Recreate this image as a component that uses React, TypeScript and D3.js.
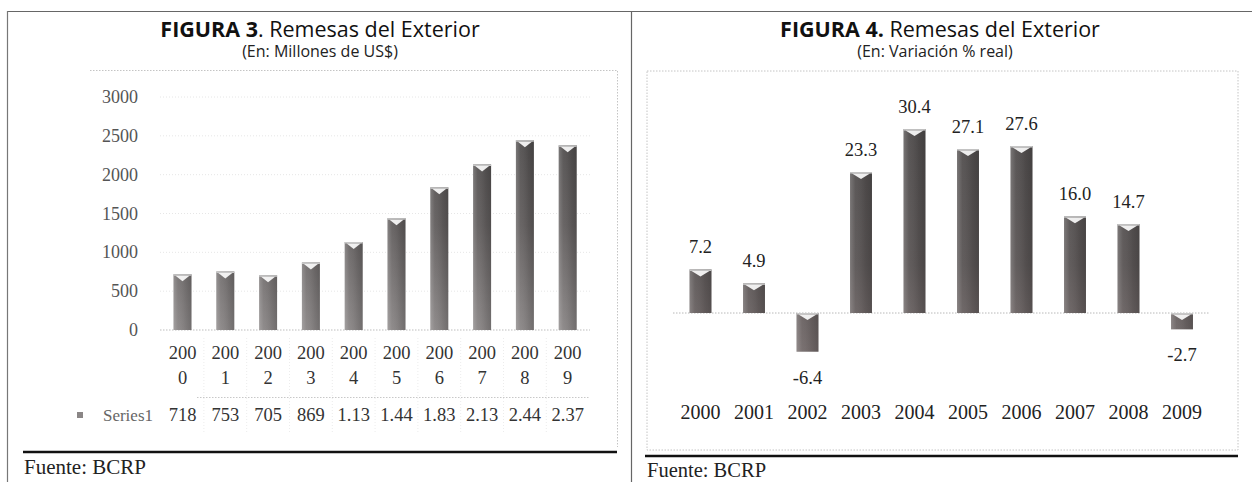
import * as d3 from "d3";

// --- data ---
const YEARS = ["2000", "2001", "2002", "2003", "2004", "2005", "2006", "2007", "2008", "2009"];
const REMESAS = [718, 753, 705, 869, 1133, 1440, 1837, 2131, 2444, 2378]; // millones US$
const REMESAS_TABLE = ["718", "753", "705", "869", "1.13", "1.44", "1.83", "2.13", "2.44", "2.37"];
const REMESAS_TICKS = [0, 500, 1000, 1500, 2000, 2500, 3000];
const VARIACION = [7.2, 4.9, -6.4, 23.3, 30.4, 27.1, 27.6, 16.0, 14.7, -2.7]; // % real

const SERIF = "'Liberation Serif', 'DejaVu Serif', serif";
const SANS = "'Open Sans', 'Noto Sans', sans-serif";

type BarProps = { x: number; w: number; top: number; bottom: number; fill: string };

// excel-ish bevelled column: gradient body, sheen, white notch on top
function Bar({ x, w, top, bottom, fill }: BarProps) {
  const h = Math.max(bottom - top, 1);
  return (
    <g>
      <rect x={x} y={top} width={w} height={h} fill={fill} />
      <rect x={x} y={top} width={w} height={h} fill="url(#sheen)" />
      <rect x={x} y={top} width={w} height={1.5} fill="#c8c8c8" />
      <path
        d={`M${x + 2},${top + 1.5}L${x + w - 2},${top + 1.5}L${x + w / 2},${top + Math.min(7, h)}Z`}
        fill="#fff"
        opacity={0.9}
      />
    </g>
  );
}

export default function App() {
  // FIGURA 3
  const xL = d3.scaleBand<string>().domain(YEARS).range([161.1, 589.1]).paddingInner(0.58).paddingOuter(0.29);
  const yL = d3.scaleLinear().domain([0, 3000]).range([330, 97]);
  // FIGURA 4
  const xR = d3.scaleBand<string>().domain(YEARS).range([673.75, 1208.75]).paddingInner(0.59).paddingOuter(0.295);
  const yR = d3.scaleLinear().domain([-10, 35]).range([373.5, 101.25]);

  const cL = (d: string) => (xL(d) ?? 0) + xL.bandwidth() / 2;
  const cR = (d: string) => (xR(d) ?? 0) + xR.bandwidth() / 2;
  const gapL = (xL.step() - xL.bandwidth()) / 2;

  return (
    <div style={{ position: "absolute", left: 0, top: 0 }}>
      <svg width={1252} height={482} viewBox="0 0 1252 482" style={{ display: "block", background: "#fff" }}>
        <defs>
          <linearGradient id="barL" gradientUnits="userSpaceOnUse" x1="0" y1={yL(3000)} x2="0" y2={yL(0)}>
            <stop offset="0" stopColor="#4a4848" />
            <stop offset="0.55" stopColor="#625e5e" />
            <stop offset="1" stopColor="#8a8686" />
          </linearGradient>
          <linearGradient id="barR" gradientUnits="userSpaceOnUse" x1="0" y1={yR(35)} x2="0" y2={yR(-10)}>
            <stop offset="0" stopColor="#4e4b4b" />
            <stop offset="0.6" stopColor="#5a5555" />
            <stop offset="1" stopColor="#7a7070" />
          </linearGradient>
          <linearGradient id="sheen" x1="0" y1="0" x2="1" y2="0">
            <stop offset="0" stopColor="#fff" stopOpacity={0.22} />
            <stop offset="0.25" stopColor="#fff" stopOpacity={0.05} />
            <stop offset="0.7" stopColor="#000" stopOpacity={0.08} />
            <stop offset="1" stopColor="#000" stopOpacity={0.18} />
          </linearGradient>
        </defs>

        {/* page frame */}
        <line x1={7} x2={1252} y1={11.5} y2={11.5} stroke="#666" strokeWidth={1.2} />
        <line x1={7.5} x2={7.5} y1={11} y2={482} stroke="#777" strokeWidth={1.2} />
        <line x1={631.5} x2={631.5} y1={11} y2={482} stroke="#666" strokeWidth={1.2} />

        {/* ================= FIGURA 3 ================= */}
        <text x={320} y={28} textAnchor="middle" dominantBaseline="central" fontFamily={SANS} fontSize={21.5} fill="#111">
          <tspan fontWeight="bold">FIGURA 3</tspan>. Remesas del Exterior
        </text>
        <text x={320} y={51} textAnchor="middle" dominantBaseline="central" fontFamily={SANS} fontSize={16} fill="#222">
          (En: Millones de US$)
        </text>

        <path d="M90,70.5H617.5V447" fill="none" stroke="#c4c4c4" strokeDasharray="1.5,1.5" />

        {REMESAS_TICKS.map((t) => (
          <g key={t}>
            {t > 0 && (
              <line x1={160} x2={590} y1={yL(t)} y2={yL(t)} stroke="#e6e6e6" strokeDasharray="1,2" />
            )}
            <text x={138} y={yL(t)} textAnchor="end" dominantBaseline="central" fontFamily={SERIF} fontSize={18} fill="#555">
              {t}
            </text>
          </g>
        ))}
        <line x1={160} x2={590} y1={yL(0)} y2={yL(0)} stroke="#bdbdbd" strokeDasharray="1.5,1.5" />

        {YEARS.map((d, i) => (
          <Bar key={d} x={xL(d) ?? 0} w={xL.bandwidth()} top={yL(REMESAS[i])} bottom={yL(0)} fill="url(#barL)" />
        ))}

        {/* data table under the axis */}
        <line x1={197} x2={590} y1={397.5} y2={397.5} stroke="#c8c8c8" strokeDasharray="1.5,1.5" />
        {YEARS.slice(1).map((d) => (
          <line key={d} x1={xL(d)! - gapL} x2={xL(d)! - gapL} y1={338} y2={432} stroke="#ececec" strokeDasharray="1,2" />
        ))}
        {YEARS.map((d) => (
          <g key={d} fontFamily={SERIF} fontSize={18.5} fill="#333" textAnchor="middle">
            <text x={cL(d)} y={353} dominantBaseline="central">{d.slice(0, 3)}</text>
            <text x={cL(d)} y={378} dominantBaseline="central">{d.slice(3)}</text>
          </g>
        ))}
        <rect x={77} y={412} width={6} height={6} fill="url(#barL)" />
        <text x={153} y={415} textAnchor="end" dominantBaseline="central" fontFamily={SERIF} fontSize={17} fill="#666">
          Series1
        </text>
        {YEARS.map((d, i) => (
          <text key={d} x={cL(d)} y={415} textAnchor="middle" dominantBaseline="central" fontFamily={SERIF} fontSize={18.5} fill="#333">
            {REMESAS_TABLE[i]}
          </text>
        ))}

        <line x1={23} x2={617} y1={452} y2={452} stroke="#111" strokeWidth={2.6} />
        <text x={24} y={467} dominantBaseline="central" fontFamily={SERIF} fontSize={21} fill="#222">
          Fuente: BCRP
        </text>

        {/* ================= FIGURA 4 ================= */}
        <text x={940} y={28} textAnchor="middle" dominantBaseline="central" fontFamily={SANS} fontSize={21.5} fill="#111">
          <tspan fontWeight="bold">FIGURA 4.</tspan> Remesas del Exterior
        </text>
        <text x={935} y={51} textAnchor="middle" dominantBaseline="central" fontFamily={SANS} fontSize={16} fill="#222">
          (En: Variación % real)
        </text>

        <rect x={647} y={71} width={591} height={379} fill="none" stroke="#c4c4c4" strokeDasharray="1.5,1.5" />
        <line x1={673} x2={1210} y1={yR(0)} y2={yR(0)} stroke="#b8b8b8" strokeDasharray="1.5,1.5" />

        {YEARS.map((d, i) => {
          const v = VARIACION[i];
          const top = v >= 0 ? yR(v) : yR(0);
          const bottom = v >= 0 ? yR(0) : yR(v);
          return (
            <g key={d}>
              <Bar x={xR(d) ?? 0} w={xR.bandwidth()} top={top} bottom={bottom} fill="url(#barR)" />
              <text
                x={cR(d)}
                y={v >= 0 ? top - 22 : bottom + 26}
                textAnchor="middle"
                dominantBaseline="central"
                fontFamily={SERIF}
                fontSize={18.5}
                fill="#222"
              >
                {v.toFixed(1)}
              </text>
              <text x={cR(d)} y={412} textAnchor="middle" dominantBaseline="central" fontFamily={SERIF} fontSize={20} fill="#222">
                {d}
              </text>
            </g>
          );
        })}

        <line x1={645} x2={1238} y1={456} y2={456} stroke="#111" strokeWidth={2.6} />
        <text x={647} y={470} dominantBaseline="central" fontFamily={SERIF} fontSize={20.5} fill="#222">
          Fuente: BCRP
        </text>
      </svg>
    </div>
  );
}
